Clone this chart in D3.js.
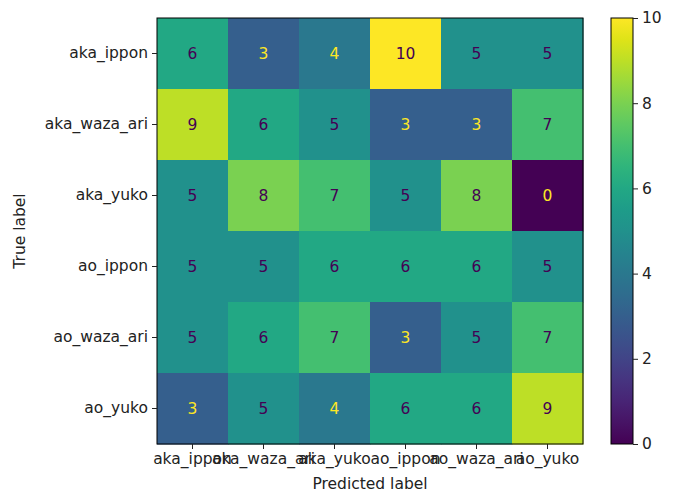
<!DOCTYPE html>
<html>
<head>
<meta charset="utf-8">
<script src="https://cdn.jsdelivr.net/npm/d3@7"></script>
<style>
  body { margin: 0; background: #fff; }
  text { font-family: "DejaVu Sans", sans-serif; }
</style>
</head>
<body>
<div id="chart"></div>
<script>
const labels = ["aka_ippon", "aka_waza_ari", "aka_yuko", "ao_ippon", "ao_waza_ari", "ao_yuko"];
const counts = [
  [6, 3, 4, 10, 5, 5],
  [9, 6, 5, 3, 3, 7],
  [5, 8, 7, 5, 8, 0],
  [5, 5, 6, 6, 6, 5],
  [5, 6, 7, 3, 5, 7],
  [3, 5, 4, 6, 6, 9]
];
const barTicks = [0, 2, 4, 6, 8, 10];

const W = 676, H = 492;
const fs = 15.5;
const plot = {left: 157, top: 18, size: 426};
const bar = {left: 611, width: 22};

const svg = d3.select("#chart").append("svg")
    .attr("width", W)
    .attr("height", H);

const x = d3.scaleBand().domain(labels).range([plot.left, plot.left + plot.size]);
const y = d3.scaleBand().domain(labels).range([plot.top, plot.top + plot.size]);

const vmin = d3.min(counts.flat()), vmax = d3.max(counts.flat());
const color = d3.scaleSequential(d3.interpolateViridis).domain([vmin, vmax]);
const thresh = (vmin + vmax) / 2;

const cells = [];
counts.forEach((row, i) => row.forEach((v, j) => cells.push({t: labels[i], p: labels[j], v})));

svg.selectAll(".cell")
    .data(cells)
  .enter().append("rect")
    .attr("x", d => x(d.p))
    .attr("y", d => y(d.t))
    .attr("width", x.bandwidth() + 0.5)
    .attr("height", y.bandwidth() + 0.5)
    .attr("fill", d => color(d.v));

svg.selectAll(".val")
    .data(cells)
  .enter().append("text")
    .attr("x", d => x(d.p) + x.bandwidth() / 2)
    .attr("y", d => y(d.t) + y.bandwidth() / 2)
    .attr("dy", "0.35em")
    .attr("text-anchor", "middle")
    .attr("font-size", fs)
    .attr("fill", d => d.v < thresh ? d3.interpolateViridis(1) : d3.interpolateViridis(0))
    .text(d => d.v);

svg.append("rect")
    .attr("x", plot.left).attr("y", plot.top)
    .attr("width", plot.size).attr("height", plot.size)
    .attr("fill", "none").attr("stroke", "#000").attr("stroke-width", 1);

// axes
const xAxis = svg.append("g")
    .attr("transform", `translate(0,${plot.top + plot.size})`)
    .call(d3.axisBottom(x).tickSize(5).tickPadding(4));
const yAxis = svg.append("g")
    .attr("transform", `translate(${plot.left},0)`)
    .call(d3.axisLeft(y).tickSize(5).tickPadding(4));
[xAxis, yAxis].forEach(g => {
  g.select(".domain").remove();
  g.selectAll("text").attr("font-size", fs).attr("fill", "#222").style("font-family", "DejaVu Sans, sans-serif");
  g.selectAll("line").attr("stroke", "#222");
});

svg.append("text")
    .attr("x", plot.left + plot.size / 2)
    .attr("y", 489)
    .attr("text-anchor", "middle")
    .attr("font-size", fs)
    .attr("fill", "#222")
    .text("Predicted label");

svg.append("text")
    .attr("transform", `translate(25,${plot.top + plot.size / 2}) rotate(-90)`)
    .attr("text-anchor", "middle")
    .attr("font-size", fs)
    .attr("fill", "#222")
    .text("True label");

// colorbar
const defs = svg.append("defs");
const grad = defs.append("linearGradient")
    .attr("id", "vir")
    .attr("x1", 0).attr("y1", 1).attr("x2", 0).attr("y2", 0);
d3.range(0, 1.0001, 0.05).forEach(t => {
  grad.append("stop").attr("offset", t).attr("stop-color", d3.interpolateViridis(t));
});

const cb = d3.scaleLinear().domain([vmin, vmax]).range([plot.top + plot.size, plot.top]);

svg.append("rect")
    .attr("x", bar.left).attr("y", plot.top)
    .attr("width", bar.width).attr("height", plot.size)
    .attr("fill", "url(#vir)")
    .attr("stroke", "#000").attr("stroke-width", 1);

const cbAxis = svg.append("g")
    .attr("transform", `translate(${bar.left + bar.width},0)`)
    .call(d3.axisRight(cb).tickValues(barTicks).tickSize(5).tickPadding(4));
cbAxis.select(".domain").remove();
cbAxis.selectAll("text").attr("font-size", fs).attr("fill", "#222").style("font-family", "DejaVu Sans, sans-serif");
cbAxis.selectAll("line").attr("stroke", "#222");
</script>
</body>
</html>
